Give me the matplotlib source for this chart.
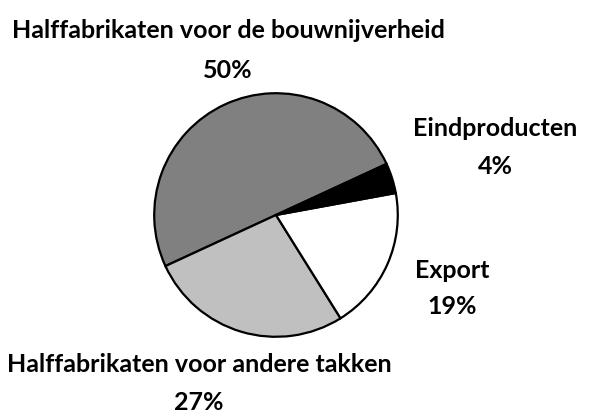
import matplotlib
matplotlib.use("Agg")
import matplotlib.pyplot as plt

# slices, counter-clockwise from the upper right
categories = ["Halffabrikaten voor de bouwnijverheid",
              "Halffabrikaten voor andere takken",
              "Export",
              "Eindproducten"]
shares = [50, 27, 19, 4]
colors = ["#808080", "#c0c0c0", "#ffffff", "#000000"]

# label centres in pixels (x, y of name line, y of percent line)
label_pos = [(228, 31, 71), (199, 365, 403), (452, 270, 306), (495, 128, 167)]

W, H = 592, 417
fig = plt.figure(figsize=(W / 100, H / 100), dpi=100)

cx, cy, r = 276, 215, 123
ax = fig.add_axes([(cx - r) / W, (H - cy - r) / H, 2 * r / W, 2 * r / H])
ax.pie(shares, colors=colors, startangle=24.8, counterclock=True,
       wedgeprops=dict(edgecolor="black", linewidth=1.6))
ax.set_xlim(-1.01, 1.01)
ax.set_ylim(-1.01, 1.01)
ax.set_aspect("equal")
ax.axis("off")

font = dict(family=["Lato", "DejaVu Sans"], fontweight="bold", fontsize=18)
for name, val, (x, y1, y2) in zip(categories, shares, label_pos):
    fig.text(x / W, 1 - y1 / H, name, ha="center", va="center", **font)
    fig.text(x / W, 1 - y2 / H, str(val) + "%", ha="center", va="center", **font)

fig.savefig("out.png", dpi=100)
